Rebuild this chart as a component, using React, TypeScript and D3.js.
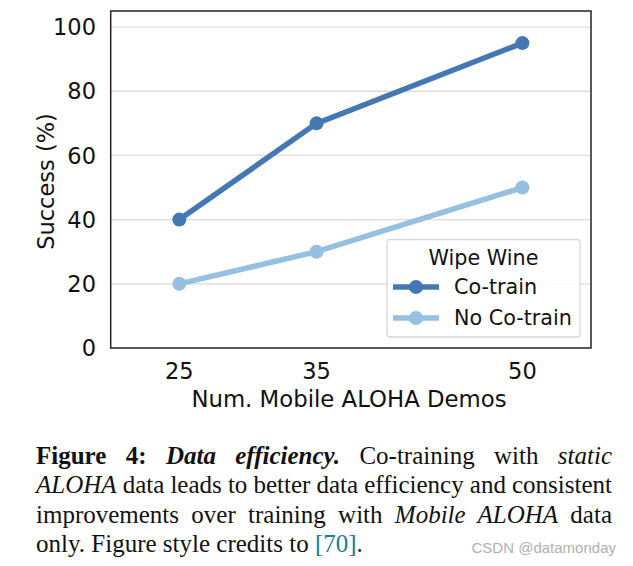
import React, { useLayoutEffect, useRef, useState } from "react";
import * as d3 from "d3";

const demos = [25, 35, 50];
const coTrain = [40, 70, 95];
const noCoTrain = [20, 30, 50];
const yTicks = [0, 20, 40, 60, 80, 100];
const xTicks = [25, 35, 50];
const seriesNames = ["Co-train", "No Co-train"];
const legendTitle = "Wipe Wine";
const colors = ["#4577b3", "#95c0df"];

type Seg = { t: string; b?: boolean; i?: boolean; c?: string };
const captionLines: Seg[][] = [
  [{ t: "Figure 4: ", b: true }, { t: "Data efficiency.", b: true, i: true }, { t: " Co-training with " }, { t: "static", i: true }],
  [{ t: "ALOHA", i: true }, { t: " data leads to better data efficiency and consistent" }],
  [{ t: "improvements over training with " }, { t: "Mobile ALOHA", i: true }, { t: " data" }],
  [{ t: "only. Figure style credits to " }, { t: "[70]", c: "#1b7a9a" }, { t: "." }],
];

const W = 633, H = 566;
const L = 110.7, R = 591, T = 11, B = 348;
const CAP_X = 36, CAP_W = 576;

export default function App() {
  const x = d3.scaleLinear().domain([20, 55]).range([L, R]);
  const y = d3.scaleLinear().domain([0, 105]).range([B, T]);
  const line = d3.line<[number, number]>().x(d => x(d[0])).y(d => y(d[1]));
  const series = [coTrain, noCoTrain];
  const font = "'DejaVu Sans', sans-serif";
  const serif = "'Liberation Serif', 'DejaVu Serif', serif";
  const refs = useRef<(SVGTextElement | null)[]>([]);
  const [ws, setWs] = useState<number[]>([0, 0, 0, 0]);
  useLayoutEffect(() => {
    const out = captionLines.map((segs, i) => {
      if (i === captionLines.length - 1) return 0;
      const el = refs.current[i];
      if (!el) return 0;
      const w = el.getComputedTextLength();
      const n = segs.map(s => s.t).join("").split(" ").length - 1;
      return n > 0 ? (CAP_W - w) / n : 0;
    });
    setWs(out);
  }, []);
  return (
    <svg width={W} height={H} style={{ position: "absolute", left: 0, top: 0, background: "#fff" }}>
      <rect x={0} y={0} width={W} height={H} fill="#fff" />
      {yTicks.filter(t => t > 0).map(t => (
        <line key={t} x1={L} x2={R} y1={y(t)} y2={y(t)} stroke="#dcdcdc" strokeWidth={1.3} />
      ))}
      {yTicks.map(t => (
        <text key={t} x={96} y={y(t)} dy="0.36em" textAnchor="end" fontFamily={font} fontSize={22.5} fill="#111">{t}</text>
      ))}
      {xTicks.map(t => (
        <text key={t} x={x(t)} y={378.5} textAnchor="middle" fontFamily={font} fontSize={22.5} fill="#111">{t}</text>
      ))}
      <text x={349} y={407} textAnchor="middle" fontFamily={font} fontSize={22.8} fill="#111">Num. Mobile ALOHA Demos</text>
      <text transform={`translate(54,${(T + B) / 2 + 2}) rotate(-90)`} textAnchor="middle" fontFamily={font} fontSize={22.5} fill="#111">Success (%)</text>
      {series.map((s, i) => {
        const pts = demos.map((d, j) => [d, s[j]] as [number, number]);
        return (
          <g key={i}>
            <path d={line(pts) || ""} fill="none" stroke={colors[i]} strokeWidth={5.5} />
            {pts.map((p, j) => (
              <circle key={j} cx={x(p[0])} cy={y(p[1])} r={7} fill={colors[i]} />
            ))}
          </g>
        );
      })}
      <rect x={L} y={T} width={R - L} height={B - T} fill="none" stroke="#222" strokeWidth={1.5} />
      <g>
        <rect x={387} y={239.5} width={193} height={97.5} rx={3} fill="#fff" fillOpacity={0.85} stroke="#d8d8d8" strokeWidth={1.3} />
        <text x={483.5} y={265} textAnchor="middle" fontFamily={font} fontSize={20.7} fill="#111">{legendTitle}</text>
        {seriesNames.map((n, i) => {
          const cy = 287 + i * 31;
          return (
            <g key={n}>
              <line x1={393} x2={439} y1={cy} y2={cy} stroke={colors[i]} strokeWidth={5.5} />
              <circle cx={416} cy={cy} r={7} fill={colors[i]} />
              <text x={454} y={cy} dy="0.36em" fontFamily={font} fontSize={20.7} fill="#111">{n}</text>
            </g>
          );
        })}
      </g>
      <g fontFamily={serif} fontSize={25} fill="#111">
        {captionLines.map((segs, i) => (
          <text
            key={i}
            ref={el => { refs.current[i] = el; }}
            x={CAP_X}
            y={463.5 + i * 29.5}
            wordSpacing={ws[i]}
            style={{ whiteSpace: "pre" }}
          >
            {segs.map((s, k) => (
              <tspan key={k} fontWeight={s.b ? "bold" : "normal"} fontStyle={s.i ? "italic" : "normal"} fill={s.c || "#111"}>{s.t}</tspan>
            ))}
          </text>
        ))}
      </g>
      <text x={616} y={553} textAnchor="end" fontFamily="'Liberation Sans', Arial, sans-serif" fontSize={15} fill="#b0b0b0">CSDN @datamonday</text>
    </svg>
  );
}
